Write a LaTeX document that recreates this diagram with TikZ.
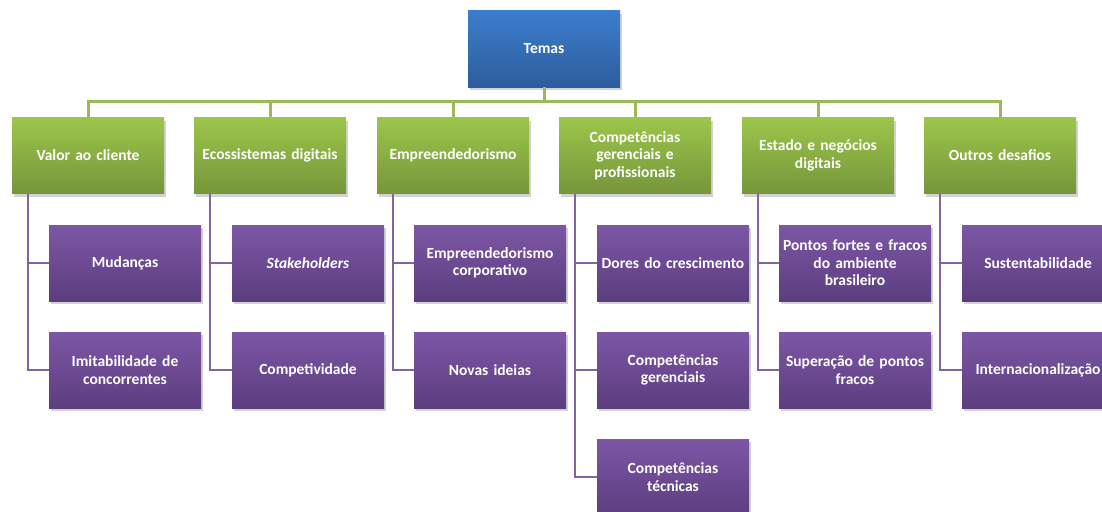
\documentclass[tikz,border=0pt]{standalone}
\usepackage{fontspec}
\setmainfont{Carlito}
\usetikzlibrary{shadows,calc}
\definecolor{gtop}{HTML}{9DC54B}
\definecolor{gbot}{HTML}{76963A}
\definecolor{ptop}{HTML}{7D56A6}
\definecolor{pbot}{HTML}{5C3E7F}
\definecolor{btop}{HTML}{3C7DCC}
\definecolor{bbot}{HTML}{2D5D9D}
\definecolor{gln}{HTML}{9BBB59}
\definecolor{pln}{HTML}{8064A2}
\tikzset{
  boxbase/.style={minimum width=152pt, minimum height=76pt, text width=150pt, align=center,
    inner sep=0pt, text=white, font=\fontsize{15.5}{17.5}\selectfont\bfseries,
    drop shadow={opacity=0.35, shadow xshift=2pt, shadow yshift=-3pt}},
  bluebox/.style={boxbase, top color=btop, bottom color=bbot},
  greenbox/.style={boxbase, top color=gtop, bottom color=gbot},
  purplebox/.style={boxbase, top color=ptop, bottom color=pbot},
  gline/.style={draw=gln, line width=3pt},
  pline/.style={draw=pln, line width=2.2pt}
}
\begin{document}
\begin{tikzpicture}[x=1pt,y=-1pt]
\useasboundingbox (0,0) rectangle (1102,511);
\clip (0,0) rectangle (1102,511);
\node[bluebox] (t) at (544,49) {Temas};
\node[greenbox] (g1) at (88,155.5) {Valor ao cliente};
\node[greenbox] (g2) at (270,155.5) {Ecossistemas digitais};
\node[greenbox] (g3) at (453,155.5) {Empreendedorismo};
\node[greenbox] (g4) at (635,155.5) {Competências\\gerenciais e\\profissionais};
\node[greenbox] (g5) at (818,155.5) {Estado e negócios\\digitais};
\node[greenbox] (g6) at (1000,155.5) {Outros desafios};
% connectors green
\foreach \g in {g1,g2,g3,g4,g5,g6}{
  \draw[gline] (t.south) -- ++(0,14) -| (\g.north);
}
\node[purplebox] (p11) at (125,263) {Mudanças};
\node[purplebox] (p12) at (125,370) {Imitabilidade de\\concorrentes};
\node[purplebox] (p21) at (308,263) {\itshape Stakeholders};
\node[purplebox] (p22) at (308,370) {Competividade};
\node[purplebox] (p31) at (490,263) {Empreendedorismo\\corporativo};
\node[purplebox] (p32) at (490,370) {Novas ideias};
\node[purplebox] (p41) at (673,263) {Dores do crescimento};
\node[purplebox] (p42) at (673,370) {Competências\\gerenciais};
\node[purplebox] (p43) at (673,477) {Competências\\técnicas};
\node[purplebox] (p51) at (855,263) {Pontos fortes e fracos\\do ambiente\\brasileiro};
\node[purplebox] (p52) at (855,370) {Superação de pontos\\fracos};
\node[purplebox] (p61) at (1038,263) {Sustentabilidade};
\node[purplebox] (p62) at (1038,370) {Internacionalização};
\foreach \g/\p in {g1/p11,g1/p12,g2/p21,g2/p22,g3/p31,g3/p32,g4/p41,g4/p42,g4/p43,g5/p51,g5/p52,g6/p61,g6/p62}{
  \draw[pline] ([xshift=16pt]\g.south west) |- (\p.west);
}
\end{tikzpicture}
\end{document}
